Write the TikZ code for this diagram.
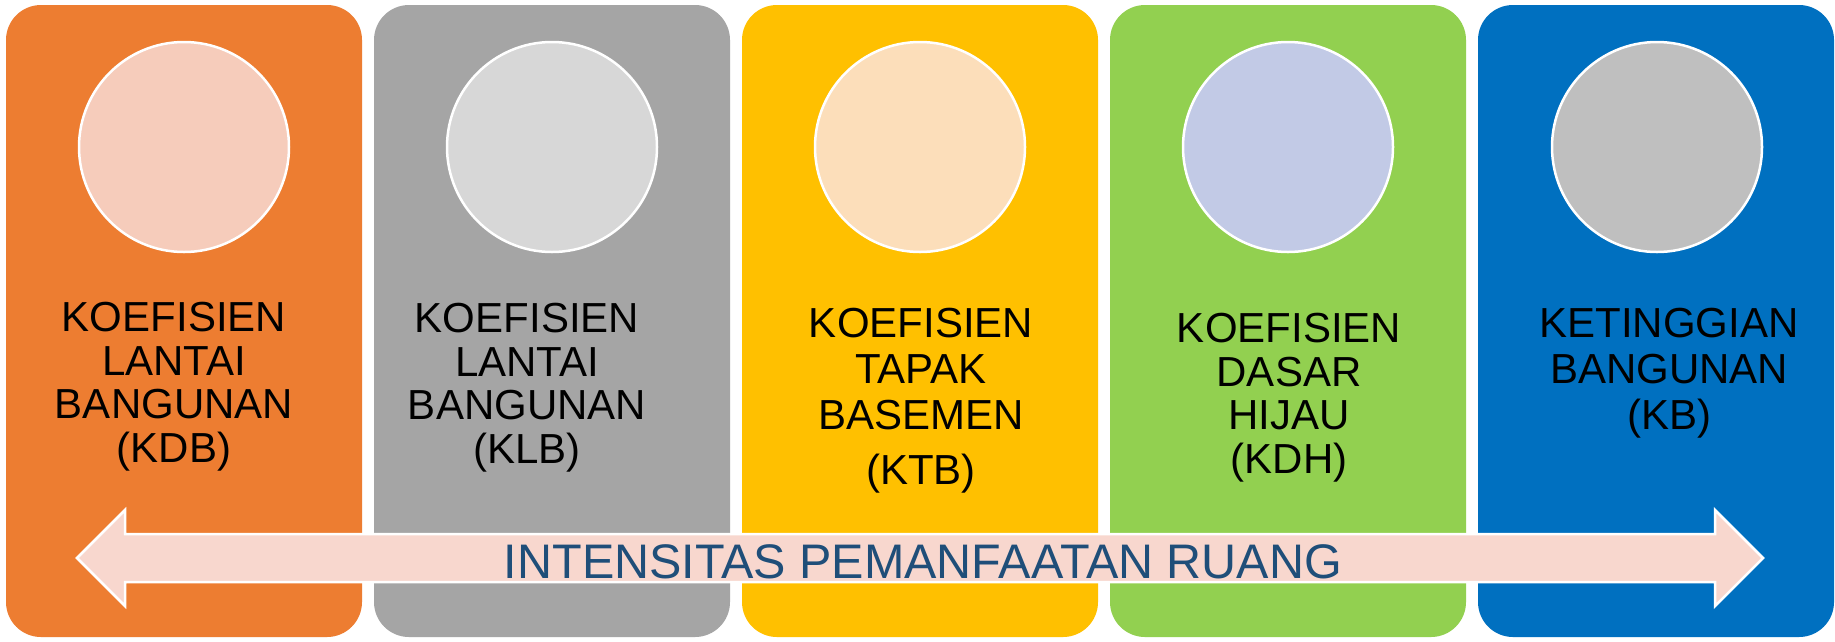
\documentclass[tikz,border=0pt]{standalone}
\usepackage{fontspec}
\setmainfont{Liberation Sans}
\definecolor{cOrange}{HTML}{ED7D31}
\definecolor{cGray}{HTML}{A5A5A5}
\definecolor{cYellow}{HTML}{FFC000}
\definecolor{cGreen}{HTML}{92D050}
\definecolor{cBlue}{HTML}{0070C0}
\definecolor{kOne}{HTML}{F6CCBB}
\definecolor{kTwo}{HTML}{D7D7D7}
\definecolor{kThree}{HTML}{FCDEBA}
\definecolor{kFour}{HTML}{C2CAE6}
\definecolor{kFive}{HTML}{BFBFBF}
\definecolor{arrowFill}{HTML}{F8D7CE}
\definecolor{titleBlue}{HTML}{1F4E79}
\begin{document}
\begin{tikzpicture}[x=1pt,y=-1pt,
  panel/.style={rectangle, rounded corners=35pt, minimum width=356pt, minimum height=632pt, inner sep=0pt, draw=none},
  disc/.style={circle, minimum size=210pt, inner sep=0pt, draw=white, line width=2.5pt},
  lbl/.style={anchor=north, align=center, inner sep=0pt, text=black, font=\fontsize{42}{43.5}\selectfont},
  lblwide/.style={lbl, font=\fontsize{42}{46}\selectfont},
  arrowbody/.style={fill=arrowFill, draw=white, line width=2.5pt, line join=miter},
  title/.style={inner sep=0pt, text=titleBlue, font=\fontsize{48.5}{50}\selectfont}]
\useasboundingbox (0,0) rectangle (1835,641);
\fill[white] (0,0) rectangle (1835,641);
% panels
\node[panel, fill=cOrange] (p1) at (184,321) {};
\node[panel, fill=cGray]   (p2) at (552,321) {};
\node[panel, fill=cYellow] (p3) at (920,321) {};
\node[panel, fill=cGreen]  (p4) at (1288,321) {};
\node[panel, fill=cBlue]   (p5) at (1656,321) {};
% circles
\node[disc, fill=kOne]   (c1) at (184,147) {};
\node[disc, fill=kTwo]   (c2) at (552,147) {};
\node[disc, fill=kThree] (c3) at (920,147) {};
\node[disc, fill=kFour]  (c4) at (1288,147) {};
\node[disc, fill=kFive]  (c5) at (1657,147) {};
% labels
\node[lbl] (t1) at (174,302) {KOEFISIEN\\LANTAI\\BANGUNAN\\(KDB)};
\node[lbl] (t2) at (527,303) {KOEFISIEN\\LANTAI\\BANGUNAN\\(KLB)};
\node[lblwide] (t3) at (921,308) {KOEFISIEN\\TAPAK\\BASEMEN\\[9pt](KTB)};
\node[lbl] (t4) at (1289,313) {KOEFISIEN\\DASAR\\HIJAU\\(KDH)};
\node[lblwide] (t5) at (1669,308) {KETINGGIAN\\BANGUNAN\\(KB)};
% double arrow
\draw[arrowbody] (77,558) -- (125,510) -- (125,534) -- (1715,534) -- (1715,510)
  -- (1763,558) -- (1715,606) -- (1715,582) -- (125,582) -- (125,606) -- cycle;
\node[title] (ttl) at (923,561.5) {INTENSITAS PEMANFAATAN RUANG};
\end{tikzpicture}
\end{document}
